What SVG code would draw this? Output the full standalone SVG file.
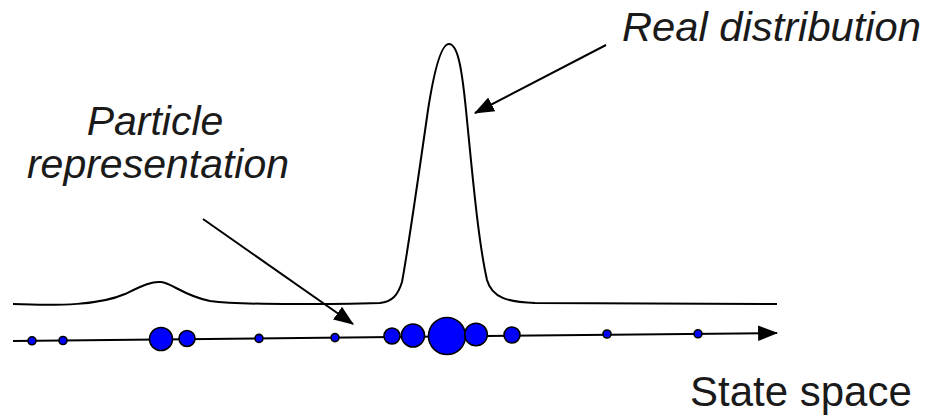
<svg xmlns="http://www.w3.org/2000/svg" width="929" height="416" viewBox="0 0 929 416">
<style>
.lbl{font-family:"Liberation Sans",Arial,sans-serif;fill:#1a1a1a}
.it{font-style:italic}
.ln{fill:none;stroke:#000;stroke-width:2}
.p{fill:#0000ff;stroke:#000;stroke-width:1.6}
</style>
<defs>
<marker id="ah" markerUnits="userSpaceOnUse" markerWidth="20" markerHeight="20" viewBox="0 0 18 14" refX="17" refY="7" orient="auto">
<path d="M0,0 L18,7 L0,14 Z" fill="#000"/>
</marker>
</defs>
<rect width="929" height="416" fill="#fff"/>
<g id="distribution">
<path class="ln" d="M13,304 C60,306 100,305 125,294 C142,286 152,281 161,282 C172,283 184,296 210,301 C250,306 330,304 380,303 C392,302 398,295 402,282 C408,250 418,180 428,110 C435,65 442,44 449,44 C458,44 462,70 466,110 C472,170 478,240 487,280 C492,298 508,302 535,303 L777,304"/>
</g>
<g id="connectors">
<line class="ln" x1="13" y1="341" x2="777" y2="333" marker-end="url(#ah)"/>
<line class="ln" x1="606" y1="45" x2="475" y2="113" marker-end="url(#ah)"/>
<line class="ln" x1="203" y1="219" x2="353" y2="324" marker-end="url(#ah)"/>
</g>
<g id="particles">
<circle class="p" cx="32" cy="340.8" r="4"/>
<circle class="p" cx="63" cy="340.5" r="4"/>
<circle class="p" cx="161" cy="339" r="11.5"/>
<circle class="p" cx="187" cy="338.5" r="8"/>
<circle class="p" cx="259" cy="338.4" r="4"/>
<circle class="p" cx="335" cy="337.6" r="4"/>
<circle class="p" cx="392" cy="336" r="8"/>
<circle class="p" cx="413" cy="335.5" r="11.5"/>
<circle class="p" cx="447" cy="336" r="18.5"/>
<circle class="p" cx="476" cy="334.5" r="11.3"/>
<circle class="p" cx="512" cy="335" r="8"/>
<circle class="p" cx="607" cy="334" r="4"/>
<circle class="p" cx="698" cy="333.8" r="4"/>
</g>
<g id="label-real">
<text class="lbl it" x="622" y="41" font-size="41" textLength="299" lengthAdjust="spacingAndGlyphs">Real distribution</text>
</g>
<g id="label-particle">
<text class="lbl it" x="155" y="135" font-size="41" text-anchor="middle">Particle</text>
<text class="lbl it" x="158" y="178" font-size="41" text-anchor="middle">representation</text>
</g>
<g id="label-state">
<text class="lbl" x="690" y="406" font-size="42">State space</text>
</g>
</svg>
